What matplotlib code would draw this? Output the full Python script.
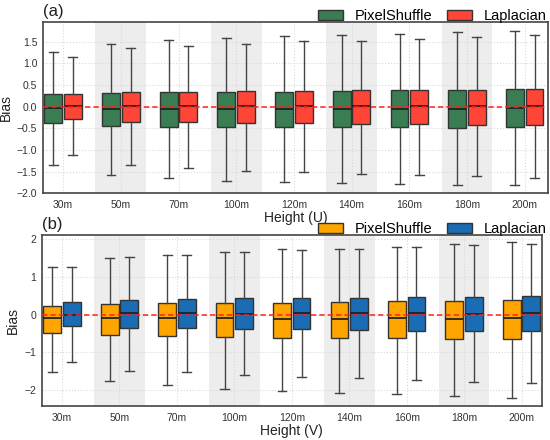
import matplotlib
matplotlib.use("Agg")
import matplotlib.pyplot as plt
from matplotlib.patches import Patch

plt.rcParams['font.family'] = ['Liberation Sans', 'DejaVu Sans']

heights = ['30m', '50m', '70m', '100m', '120m', '140m', '160m', '180m', '200m']

# Panel (a): U component
u_ps_whislo = [-1.35, -1.58, -1.65, -1.71, -1.75, -1.76, -1.78, -1.82, -1.82]
u_ps_q1     = [-0.37, -0.45, -0.46, -0.48, -0.48, -0.48, -0.48, -0.50, -0.48]
u_ps_med    = [-0.04, -0.05, -0.05, -0.06, -0.06, -0.06, -0.06, -0.06, -0.04]
u_ps_q3     = [0.29, 0.32, 0.34, 0.35, 0.35, 0.37, 0.38, 0.38, 0.41]
u_ps_whishi = [1.27, 1.46, 1.55, 1.60, 1.63, 1.65, 1.68, 1.73, 1.75]

u_lp_whislo = [-1.12, -1.35, -1.41, -1.48, -1.52, -1.55, -1.58, -1.61, -1.65]
u_lp_q1     = [-0.28, -0.35, -0.35, -0.38, -0.38, -0.40, -0.41, -0.42, -0.42]
u_lp_med    = [0.02, 0.01, 0.01, 0.01, 0.02, 0.01, 0.01, 0.01, 0.01]
u_lp_q3     = [0.29, 0.34, 0.35, 0.37, 0.37, 0.38, 0.38, 0.39, 0.40]
u_lp_whishi = [1.15, 1.35, 1.41, 1.45, 1.51, 1.53, 1.57, 1.62, 1.65]

# Panel (b): V component
v_ps_whislo = [-1.53, -1.76, -1.86, -1.97, -2.03, -2.07, -2.10, -2.14, -2.21]
v_ps_q1     = [-0.48, -0.54, -0.57, -0.60, -0.61, -0.63, -0.63, -0.65, -0.65]
v_ps_med    = [-0.09, -0.08, -0.09, -0.10, -0.11, -0.11, -0.10, -0.11, -0.09]
v_ps_q3     = [0.22, 0.28, 0.30, 0.30, 0.32, 0.33, 0.35, 0.36, 0.38]
v_ps_whishi = [1.27, 1.49, 1.58, 1.65, 1.73, 1.75, 1.80, 1.88, 1.92]

v_lp_whislo = [-1.24, -1.48, -1.53, -1.60, -1.65, -1.67, -1.74, -1.78, -1.80]
v_lp_q1     = [-0.30, -0.35, -0.35, -0.39, -0.39, -0.40, -0.42, -0.42, -0.43]
v_lp_med    = [0.00, 0.04, 0.04, 0.03, 0.04, 0.04, 0.04, 0.03, 0.04]
v_lp_q3     = [0.33, 0.40, 0.42, 0.43, 0.44, 0.45, 0.47, 0.48, 0.50]
v_lp_whishi = [1.26, 1.52, 1.57, 1.66, 1.71, 1.74, 1.80, 1.84, 1.86]

series_labels = ['PixelShuffle', 'Laplacian']


def stats(lo, q1, med, q3, hi):
    return [dict(whislo=a, q1=b, med=c, q3=d, whishi=e, fliers=[])
            for a, b, c, d, e in zip(lo, q1, med, q3, hi)]


fig = plt.figure(figsize=(5.5, 4.4), dpi=100)
ax1 = fig.add_axes([0.078, 0.561, 0.918, 0.389])
ax2 = fig.add_axes([0.076, 0.077, 0.909, 0.389])

panels = [
    (ax1, stats(u_ps_whislo, u_ps_q1, u_ps_med, u_ps_q3, u_ps_whishi),
     stats(u_lp_whislo, u_lp_q1, u_lp_med, u_lp_q3, u_lp_whishi),
     ['#3a7d52', '#ff4536'], '(a)', 'Height (U)',
     [-2.0, -1.5, -1.0, -0.5, 0.0, 0.5, 1.0, 1.5], (-2.0, 1.96), (-0.35, 8.4), '{:.1f}', 1.0),
    (ax2, stats(v_ps_whislo, v_ps_q1, v_ps_med, v_ps_q3, v_ps_whishi),
     stats(v_lp_whislo, v_lp_q1, v_lp_med, v_lp_q3, v_lp_whishi),
     ['#ffa500', '#1a6db4'], '(b)', 'Height (V)',
     [-2, -1, 0, 1, 2], (-2.42, 2.11), (-0.35, 8.35), '{:.0f}', 1.012),
]

n = len(heights)
pos = list(range(n))
off = 0.17
bw = 0.31

for ax, s_ps, s_lp, cols, tag, xlabel, yt, ylim, xlim, fmt, lgx in panels:
    for i in range(1, n, 2):
        ax.axvspan(i - 0.44, i + 0.44, color='#ededed', zorder=0, lw=0)
    for st, dx, c in [(s_ps, -off, cols[0]), (s_lp, off, cols[1])]:
        ax.bxp(st, positions=[p + dx for p in pos], widths=bw, patch_artist=True,
               showfliers=False, manage_ticks=False,
               boxprops=dict(facecolor=c, edgecolor='#333333', linewidth=1.0),
               medianprops=dict(color='#222222', linewidth=1.3),
               whiskerprops=dict(color='#444444', linewidth=1.0),
               capprops=dict(color='#444444', linewidth=1.0), zorder=3)
    ax.axhline(0, color='#ff2020', ls='--', lw=1.1, zorder=4, dashes=(3.5, 2))
    ax.set_xlim(*xlim)
    ax.set_ylim(*ylim)
    ax.set_xticks(pos)
    ax.set_xticklabels(heights, fontsize=7.5, color='#333333')
    ax.set_yticks(yt)
    ax.set_yticklabels([fmt.format(v).replace('-', '\u2212') for v in yt],
                       fontsize=7.5, color='#333333')
    ax.tick_params(axis='y', length=0, pad=4)
    ax.tick_params(axis='x', length=0, pad=5)
    ax.grid(True, color='#d8d8d8', ls=':', lw=0.8, zorder=1)
    ax.set_axisbelow(True)
    for sp in ax.spines.values():
        sp.set_color('#444444')
        sp.set_linewidth(1.2)
    ax.set_ylabel('Bias', fontsize=10, color='#222222', labelpad=3)
    ax.set_xlabel(xlabel, fontsize=10, color='#222222', labelpad=1)
    ax.text(0.0, 1.015, tag, transform=ax.transAxes, ha='left', va='bottom',
            fontsize=12, color='#222222')
    handles = [Patch(facecolor=cols[0], edgecolor='#333333', lw=1.0),
               Patch(facecolor=cols[1], edgecolor='#333333', lw=1.0)]
    ax.legend(handles, series_labels, loc='lower right', bbox_to_anchor=(lgx, 0.985),
              ncol=2, frameon=False, fontsize=10.5, handlelength=1.7, handleheight=0.7,
              handletextpad=0.8, columnspacing=1.0, borderaxespad=0.0, borderpad=0.1)

fig.savefig('out.png', dpi=100)
